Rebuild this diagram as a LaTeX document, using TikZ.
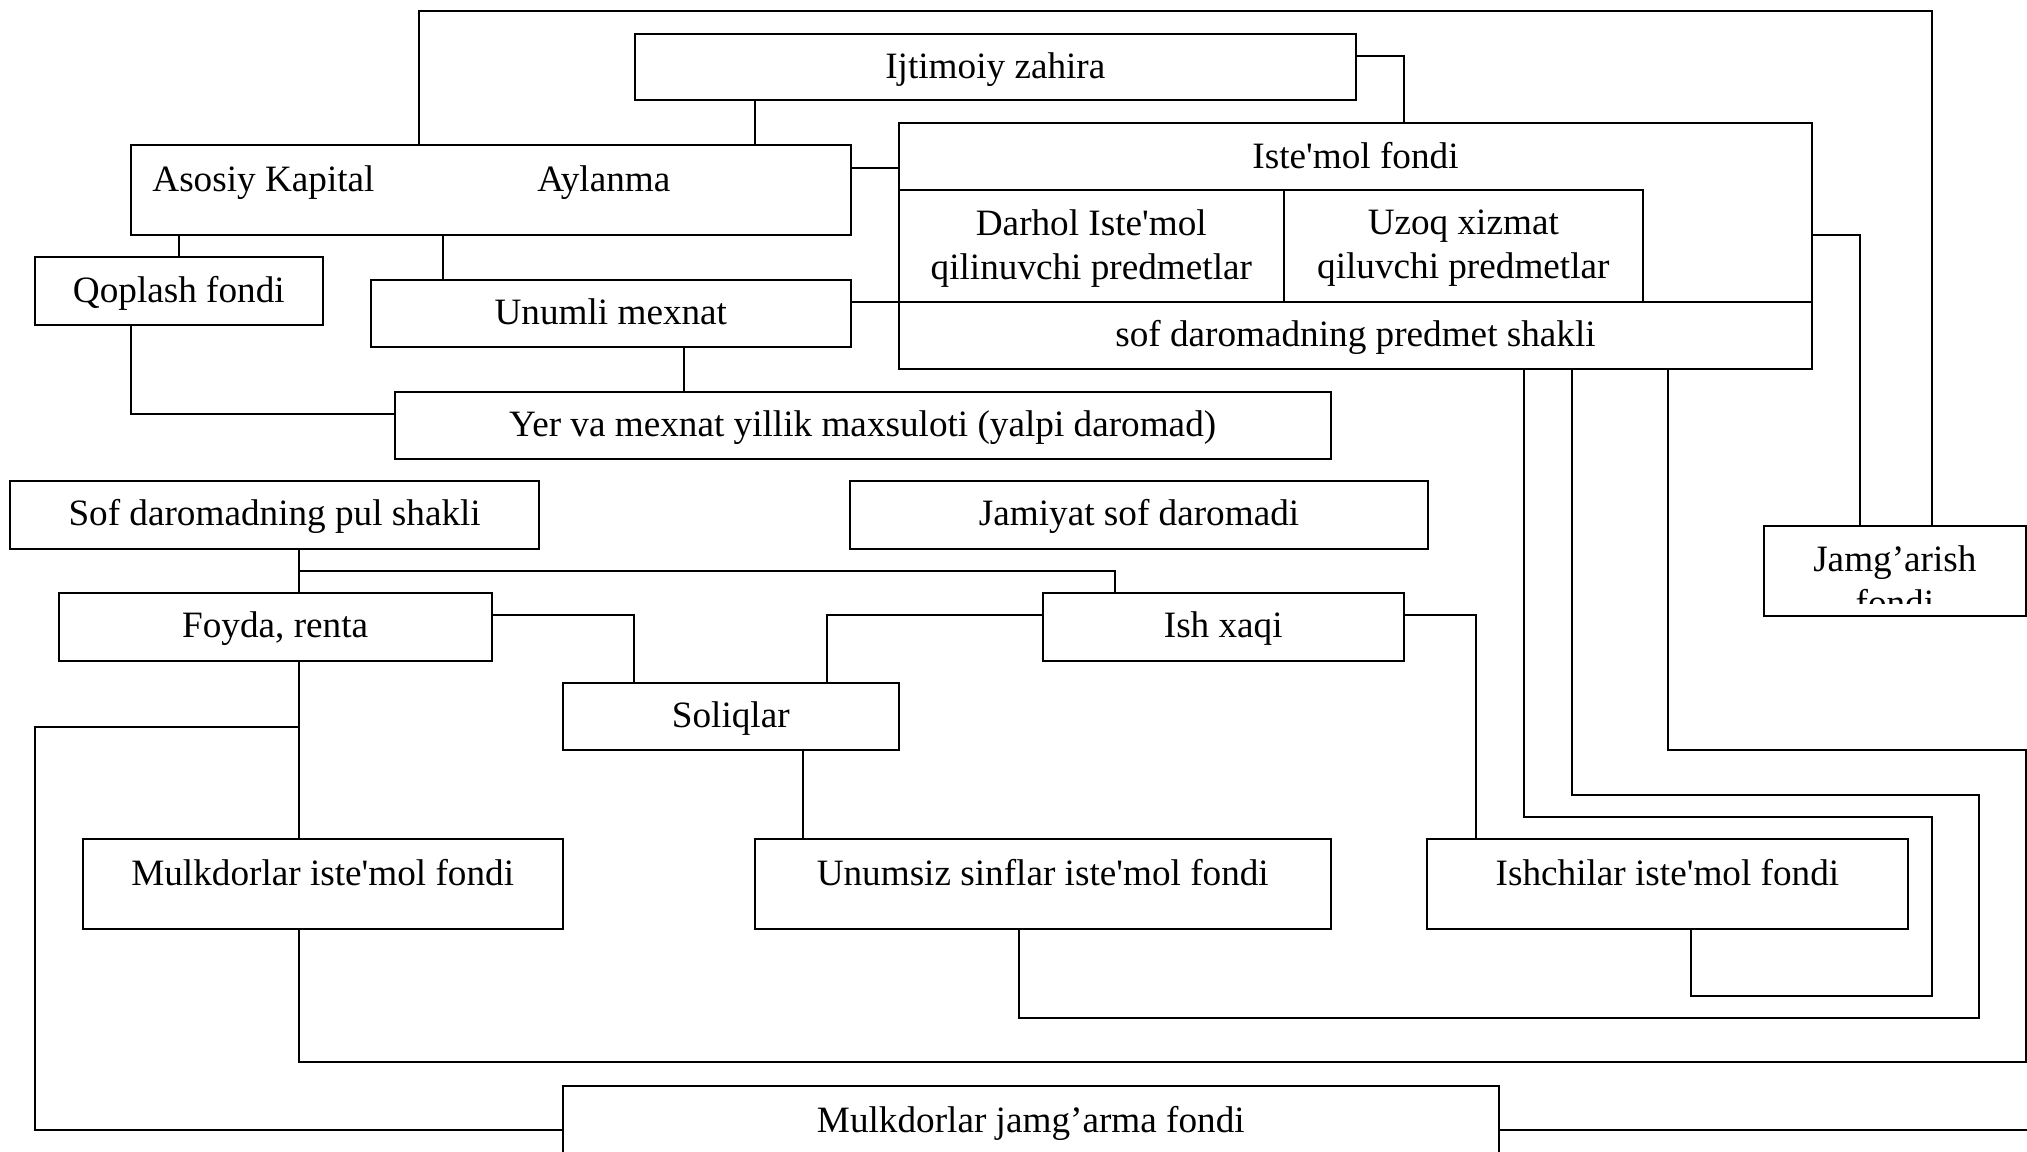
\documentclass[tikz,border=0pt]{standalone}
\usepackage{fontspec}
\newfontfamily\diafont{Liberation Serif}
\begin{document}
\begin{tikzpicture}[x=0.5pt,y=-0.5pt,
  font=\diafont\fontsize{18.6}{22}\selectfont,
  box/.style={draw, line width=1pt, inner sep=0pt, outer sep=0pt, text height=13pt, text depth=1.7pt},
  ebox/.style={draw, line width=1pt, inner sep=0pt, outer sep=0pt},
  mbox/.style={draw, line width=1pt, inner sep=0pt, outer sep=0pt, align=center},
  lbl/.style={inner sep=0pt, text height=13pt, text depth=1.7pt},
  conn/.style={line width=1pt}]
\path[use as bounding box] (0,0) rectangle (2027,1151);
\fill[white] (0,0) rectangle (2027,1151);
\clip (0,0) rectangle (2027,1151);

% boxes
\node[box, minimum width=360.3pt, minimum height=33.3pt] (ijt) at (995.3,67) {Ijtimoiy zahira};
\node[ebox, minimum width=360.2pt, minimum height=45pt] (aso) at (490.8,190) {};
\node[lbl, anchor=west] (aso-a) at (152,179.7) {Asosiy Kapital};
\node[lbl, anchor=west] (aso-b) at (537,179.7) {Aylanma};

\node[ebox, minimum width=456.5pt, minimum height=123pt] (ist) at (1355.5,246) {};
\node[lbl] (ist-t) at (1355.5,157.3) {Iste'mol fondi};
\node[mbox, minimum width=192.3pt, minimum height=56pt] (darh) at (1091.3,246) {};
\node[align=center, inner sep=0pt] (darh-t) at (1091.3,248.5) {Darhol Iste'mol\\qilinuvchi predmetlar};
\node[mbox, minimum width=179.7pt, minimum height=56pt] (uzoq) at (1463.3,246) {};
\node[align=center, inner sep=0pt] (uzoq-t) at (1463.3,248.5) {Uzoq xizmat\\qiluvchi predmetlar};
\node[box, minimum width=456.5pt, minimum height=33.5pt] (sofp) at (1355.5,335.5) {sof daromadning predmet shakli};

\node[box, minimum width=143.85pt, minimum height=34pt] (qop) at (178.85,291) {Qoplash fondi};
\node[box, minimum width=240.2pt, minimum height=33.5pt] (unu) at (610.8,313.5) {Unumli mexnat};
\node[box, minimum width=468.15pt, minimum height=33.65pt] (yer) at (862.65,425.35) {Yer va mexnat yillik maxsuloti (yalpi daromad)};

\node[box, minimum width=264.35pt, minimum height=33.95pt] (sofpul) at (274.65,514.65) {Sof daromadning pul shakli};
\node[box, minimum width=288.65pt, minimum height=33.95pt] (jam) at (1139.05,514.65) {Jamiyat sof daromadi};

\node[ebox, minimum width=131.15pt, minimum height=44.8pt] (jgr) at (1894.85,570.8) {};
\begin{scope}
  \clip (1763.7,526) rectangle (2026,603.3);
  \node[align=center, inner sep=0pt] (jgr-t) at (1894.85,581) {Jamg’arish\\fondi};
\end{scope}

\node[box, minimum width=216.35pt, minimum height=33.9pt] (foy) at (275.15,626.6) {Foyda, renta};
\node[box, minimum width=180.25pt, minimum height=33.9pt] (ish) at (1223.25,626.6) {Ish xaqi};
\node[box, minimum width=168.2pt, minimum height=33.7pt] (sol) at (730.8,716.3) {Soliqlar};

\node[ebox, minimum width=239.9pt, minimum height=45pt] (mik) at (322.7,884) {};
\node[lbl] (mik-t) at (322.7,874) {Mulkdorlar iste'mol fondi};
\node[ebox, minimum width=288.05pt, minimum height=45pt] (uns) at (1042.75,884) {};
\node[lbl] (uns-t) at (1042.75,874) {Unumsiz sinflar iste'mol fondi};
\node[ebox, minimum width=240.4pt, minimum height=45pt] (ishc) at (1667.4,884) {};
\node[lbl] (ishc-t) at (1667.4,874) {Ishchilar iste'mol fondi};

\node[ebox, minimum width=468.2pt, minimum height=45pt] (mjf) at (1030.8,1130.8) {};
\node[lbl] (mjf-t) at (1030.8,1120.8) {Mulkdorlar jamg’arma fondi};

% connectors
\draw[conn] (aso.north -| 419,0) -- (419,11) -- (1931.5,11) -- (jgr.north -| 1931.5,0);
\draw[conn] (ijt.south -| 755,0) -- (aso.north -| 755,0);
\draw[conn] (ijt.east |- 0,55.7) -| (ist.north -| 1403.5,0);
\draw[conn] (aso.east |- 0,168) -- (ist.west |- 0,168);
\draw[conn] (aso.south -| qop.north) -- (qop.north);
\draw[conn] (aso.south -| 443,0) -- (unu.north -| 443,0);
\draw[conn] (unu.east |- 0,302) -- (ist.west |- 0,302);
\draw[conn] (qop.south -| 131,0) |- (yer.west |- 0,414);
\draw[conn] (unu.south -| 683.5,0) -- (yer.north -| 683.5,0);
\draw[conn] (ist.east |- 0,235) -| (jgr.north -| 1860,0);

\coordinate (br1) at (299.4,571);
\coordinate (br2) at (299.4,727);
\draw[conn] (sofpul.south -| 299.4,0) -- (foy.north -| 299.4,0);
\draw[conn] (br1) -| (ish.north -| 1115,0);
\draw[conn] (foy.east |- 0,615.1) -| (sol.north -| 634.4,0);
\draw[conn] (ish.west |- 0,615.1) -| (sol.north -| 827,0);
\draw[conn] (ish.east |- 0,615.1) -| (ishc.north -| 1475.5,0);
\draw[conn] (sol.south -| 803,0) -- (uns.north -| 803,0);
\draw[conn] (foy.south -| 299.4,0) -- (mik.north -| 299.4,0);
\draw[conn] (br2) -| (35,1130.3) -- (mjf.west |- 0,1130.3);

\draw[conn] (mik.south -| 299.4,0) |- (2026,1062.4) |- (1667.5,750) -- (sofp.south -| 1667.5,0);
\draw[conn] (uns.south -| 1019,0) |- (1979,1018.4) |- (1571.8,794.5) -- (sofp.south -| 1571.8,0);
\draw[conn] (ishc.south -| 1691,0) |- (1931.5,995.9) |- (1524,817) -- (sofp.south -| 1524,0);

\coordinate (edge) at (2027,1130.3);
\draw[conn] (mjf.east |- edge) -- (edge);
\end{tikzpicture}
\end{document}
